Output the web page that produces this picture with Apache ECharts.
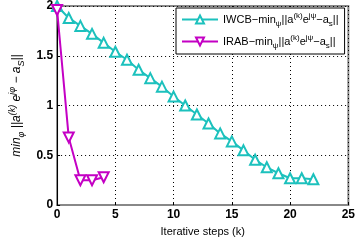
<!DOCTYPE html>
<html>
<head>
<meta charset="utf-8">
<script src="https://cdn.jsdelivr.net/npm/echarts@6/dist/echarts.min.js"></script>
<style>
  html, body { margin: 0; padding: 0; background: #fff; }
  #chart { width: 358px; height: 242px; }
</style>
</head>
<body>
<div id="chart"></div>
<script>
var steps = [0, 1, 2, 3, 4, 5, 6, 7, 8, 9, 10, 11, 12, 13, 14, 15, 16, 17, 18, 19, 20, 21, 22];
var iwcb = [2.0, 1.88, 1.8, 1.72, 1.63, 1.54, 1.46, 1.36, 1.275, 1.19, 1.09, 1.0, 0.91, 0.82, 0.72, 0.64, 0.55, 0.455, 0.38, 0.32, 0.27, 0.27, 0.26];
var irab = [1.96, 0.68, 0.25, 0.25, 0.28];
var xTicks = [0, 5, 10, 15, 20, 25];
var yTicks = [0, 0.5, 1, 1.5, 2];

var font = 'Liberation Sans, Arial, sans-serif';
var cyan = '#1cc1bd';
var magenta = '#c400c4';

function pairs(xs, ys) {
    return ys.map(function (v, i) { return [xs[i], v]; });
}

var legendRich = {
    t: { fontFamily: font, fontSize: 11, color: '#000' },
    sub: { fontFamily: font, fontSize: 8, color: '#000', padding: [9, 0, 0, 0] },
    sup: { fontFamily: font, fontSize: 8, color: '#000', padding: [0, 0, 7, 0] }
};

var chart = echarts.init(document.getElementById('chart'));
chart.setOption({
    animation: false,
    grid: {
        left: 39, right: 7, top: 4, bottom: 31,
        show: true, borderColor: '#888', borderWidth: 2
    },
    legend: {
        left: 176, top: 8,
        orient: 'vertical',
        backgroundColor: '#fff',
        borderColor: '#000', borderWidth: 1,
        padding: [4, 6, 4, 5],
        itemGap: 6,
        itemWidth: 36, itemHeight: 10,
        data: ['IWCB', 'IRAB'],
        formatter: function (name) {
            return '{t|' + name + '−min}{sub|ψ}{t|||a}{sup|(k)}{t|e}{sup|jψ}{t|−a}{sub|s}{t|||}';
        },
        textStyle: { fontFamily: font, fontSize: 11, color: '#000', rich: legendRich }
    },
    xAxis: {
        type: 'value', min: 0, max: 25, interval: 5,
        name: 'Iterative steps (k)', nameLocation: 'middle', nameGap: 17,
        nameTextStyle: { fontFamily: font, fontSize: 11, color: '#000' },
        axisLine: { lineStyle: { color: '#888', width: 2 } },
        axisTick: { inside: true, length: 3, lineStyle: { color: '#000' } },
        axisLabel: { fontFamily: font, fontSize: 12, fontWeight: 'bold', color: '#000', margin: 4 },
        splitLine: { lineStyle: { color: '#000', type: [1, 3], width: 1 } }
    },
    yAxis: {
        type: 'value', min: 0, max: 2, interval: 0.5,
        name: 'min{s|φ} ||a{p|(k)} e{p|jφ} − a{s|S}||',
        nameLocation: 'middle', nameRotate: 90, nameGap: 24,
        nameTextStyle: {
            fontFamily: font, fontSize: 12, fontStyle: 'italic', color: '#000',
            rich: {
                s: { fontFamily: font, fontSize: 9, fontStyle: 'italic', color: '#000', padding: [9, 0, 0, 0] },
                p: { fontFamily: font, fontSize: 9, fontStyle: 'italic', color: '#000', padding: [0, 0, 8, 0] }
            }
        },
        axisLine: { lineStyle: { color: '#000', width: 1 } },
        axisTick: { inside: true, length: 3, lineStyle: { color: '#000' } },
        axisLabel: {
            fontFamily: font, fontSize: 12, fontWeight: 'bold', color: '#000', margin: 4,
            formatter: function (v) { return String(v); }
        },
        splitLine: { lineStyle: { color: '#000', type: [1, 3], width: 1 } }
    },
    series: [
        {
            name: 'IWCB', type: 'line',
            data: pairs(steps, iwcb),
            symbol: 'emptyTriangle', symbolSize: 10,
            lineStyle: { color: cyan, width: 2 },
            itemStyle: { color: cyan, borderColor: cyan, borderWidth: 1.5 }
        },
        {
            name: 'IRAB', type: 'line',
            data: pairs(steps, irab),
            symbol: 'emptyTriangle', symbolSize: 10, symbolRotate: 180,
            lineStyle: { color: magenta, width: 2 },
            itemStyle: { color: magenta, borderColor: magenta, borderWidth: 1.5 }
        }
    ]
});
</script>
</body>
</html>
